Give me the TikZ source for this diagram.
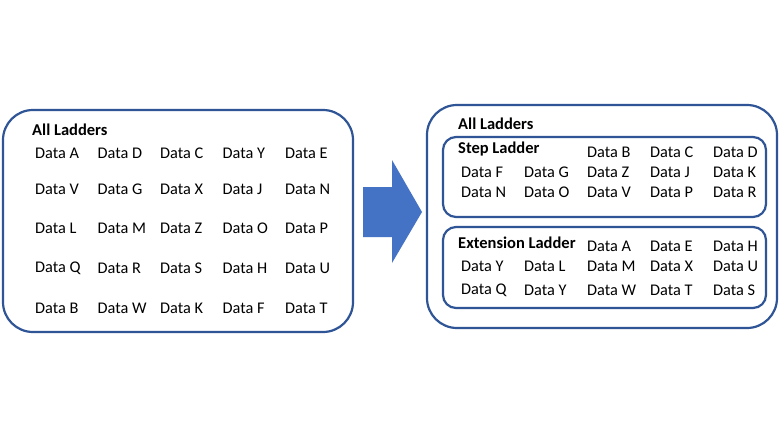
\documentclass[tikz,border=0pt]{standalone}
\usepackage{fontspec}
\setmainfont{Carlito}
\definecolor{BoxBlue}{RGB}{47,85,151}
\definecolor{ArrowBlue}{RGB}{68,114,196}
\usepackage{tikz}
\usetikzlibrary{positioning}

\tikzset{
  box/.style={draw=BoxBlue,line width=2.2pt},
  datum/.style={anchor=west,inner sep=0pt,font=\fontsize{16.3}{18}\selectfont},
  boxtitle/.style={anchor=west,inner sep=0pt,font=\fontsize{16.5}{19}\selectfont\bfseries}
}

\begin{document}
\begin{tikzpicture}[x=1pt,y=-1pt]
  \useasboundingbox[fill=white] (0,0) rectangle (780,439);

  % left: all ladders in one pool
  \draw[box,rounded corners=30pt] (3,110) rectangle (353,332);
  \node[boxtitle] (all-title) at (32,130) {All Ladders};
  \foreach \y/\row [count=\j] in {153/{A,D,C,Y,E},189/{V,G,X,J,N},228/{L,M,Z,O,P},268/{Q,R,S,H,U},308/{B,W,K,F,T}}
    \foreach \t [count=\i] in \row
      \node[datum] (all-\j-\i) at ({35+(\i-1)*62.5},\y) {Data \t};

  % block arrow
  \fill[ArrowBlue] (363,187) -- (392,187) -- (392,160) -- (422,212) -- (392,263) -- (392,237) -- (363,237) -- cycle;

  % right: split by ladder type
  \draw[box,rounded corners=30pt] (427,105) rectangle (777,328);
  \node[boxtitle] (split-title) at (458,124) {All Ladders};

  \draw[box,rounded corners=13pt] (443,137) rectangle (766,217);
  \node[boxtitle] (step-title) at (458,149) {Step Ladder};
  \foreach \y/\row [count=\j] in {152/{3/B,4/C,5/D},172/{1/F,2/G,3/Z,4/J,5/K},192/{1/N,2/O,3/V,4/P,5/R}}
    \foreach \i/\t in \row
      \node[datum] (step-\j-\i) at ({461+(\i-1)*63},\y) {Data \t};

  \draw[box,rounded corners=13pt] (443,227) rectangle (766,308);
  \node[boxtitle] (ext-title) at (458,243) {Extension Ladder};
  \foreach \y/\row [count=\j] in {246/{3/A,4/E,5/H},266/{1/Y,2/L,3/M,4/X,5/U},290/{1/Q,2/Y,3/W,4/T,5/S}}
    \foreach \i/\t in \row
      \node[datum] (ext-\j-\i) at ({461+(\i-1)*63},\y) {Data \t};
\end{tikzpicture}
\end{document}
